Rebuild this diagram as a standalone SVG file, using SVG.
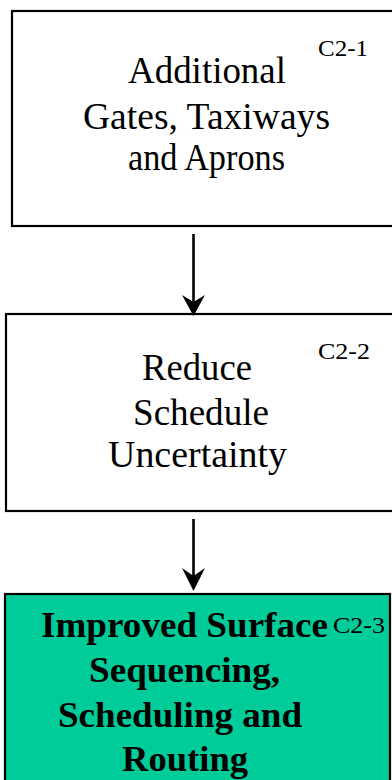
<svg xmlns="http://www.w3.org/2000/svg" width="392" height="780" viewBox="0 0 392 780">
  <style>
    .box { fill: #ffffff; stroke: #000000; stroke-width: 2.2; }
    .goal { fill: #00CC99; stroke: #000000; stroke-width: 2.2; }
    .t { font-family: "Liberation Serif", "Times New Roman", serif; font-size: 37px; fill: #000; }
    .b { font-family: "Liberation Serif", "Times New Roman", serif; font-size: 36px; font-weight: bold; fill: #000; }
    .id { font-family: "Liberation Serif", "Times New Roman", serif; font-size: 23px; fill: #000; }
    .edge { stroke: #000; stroke-width: 2.6; fill: none; }
    .head { fill: #000; }
  </style>

  <g id="node-c2-1">
    <rect class="box" x="12" y="11" width="392" height="215"/>
    <text class="t" x="128" y="83" textLength="158" lengthAdjust="spacingAndGlyphs">Additional</text>
    <text class="t" x="83" y="129" textLength="247" lengthAdjust="spacingAndGlyphs">Gates, Taxiways</text>
    <text class="t" x="128" y="170" textLength="157" lengthAdjust="spacingAndGlyphs">and Aprons</text>
    <text class="id" x="318" y="56" textLength="50" lengthAdjust="spacingAndGlyphs">C2-1</text>
  </g>

  <g id="node-c2-2">
    <rect class="box" x="6" y="314" width="392" height="197"/>
    <text class="t" x="142" y="380" textLength="110" lengthAdjust="spacingAndGlyphs">Reduce</text>
    <text class="t" x="133" y="425" textLength="136" lengthAdjust="spacingAndGlyphs">Schedule</text>
    <text class="t" x="108" y="467" textLength="179" lengthAdjust="spacingAndGlyphs">Uncertainty</text>
    <text class="id" x="318" y="359" textLength="52" lengthAdjust="spacingAndGlyphs">C2-2</text>
  </g>

  <g id="node-c2-3">
    <rect class="goal" x="5" y="594" width="385" height="200"/>
    <text class="b" x="41" y="637" textLength="287" lengthAdjust="spacingAndGlyphs">Improved Surface</text>
    <text class="b" x="89" y="682" textLength="191" lengthAdjust="spacingAndGlyphs">Sequencing,</text>
    <text class="b" x="58" y="727" textLength="244" lengthAdjust="spacingAndGlyphs">Scheduling and</text>
    <text class="b" x="122" y="771" textLength="126" lengthAdjust="spacingAndGlyphs">Routing</text>
    <text class="id" x="333" y="633" textLength="52" lengthAdjust="spacingAndGlyphs">C2-3</text>
  </g>

  <g id="connectors">
    <line class="edge" x1="193.5" y1="234" x2="193.5" y2="302"/>
    <polygon class="head" points="193.5,316 205,295 193.5,302 182,295"/>
    <line class="edge" x1="193.5" y1="519" x2="193.5" y2="576"/>
    <polygon class="head" points="193.5,591 205,568 193.5,576 182,568"/>
  </g>
</svg>
